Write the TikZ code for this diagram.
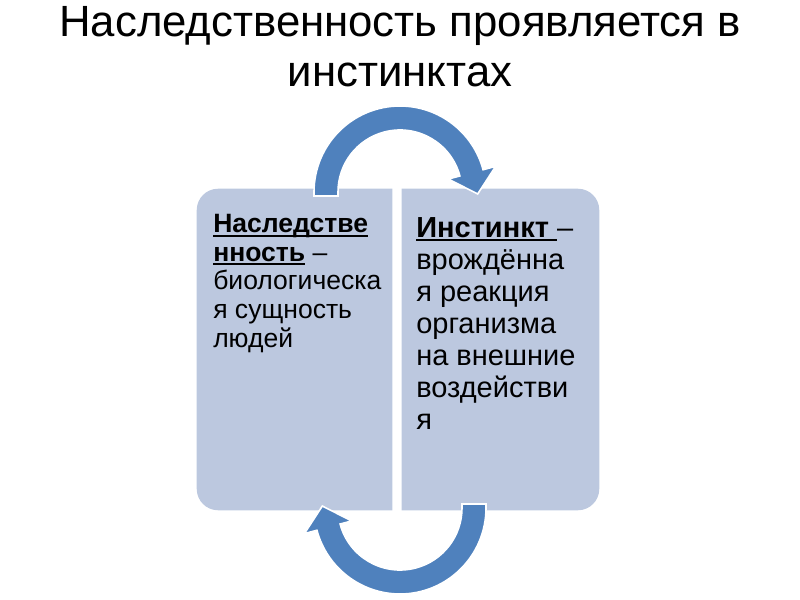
\documentclass[tikz,border=0pt]{standalone}
\usepackage{fontspec}
\setmainfont{Liberation Sans}
\usetikzlibrary{calc}
\definecolor{boxfill}{RGB}{188,200,223}
\definecolor{arrowblue}{RGB}{79,129,189}
\newsavebox\myulbox
\newcommand\myul[1]{\sbox\myulbox{#1}\rlap{\rule[-3pt]{\wd\myulbox}{1.4pt}}\usebox\myulbox}
\begin{document}
\begin{tikzpicture}[x=0.75pt,y=0.75pt,
  boxframe/.style={inner sep=0pt, minimum height=240.75pt},
  boxshape/.style={fill=boxfill, rounded corners=16pt},
  arrowshape/.style={fill=arrowblue, draw=white, line width=1.2pt, line join=miter},
  titletext/.style={font=\fontsize{32.8}{40}\selectfont, inner sep=0pt, anchor=base},
  lefttext/.style={font=\fontsize{19.9}{21.5}\selectfont, align=left, inner sep=0pt, anchor=north west},
  righttext/.style={font=\fontsize{21.75}{24}\selectfont, align=left, inner sep=0pt, anchor=north west}]
\useasboundingbox (0,0) rectangle (800,600);

% title
\node[titletext] (title1) at (400,563) {Наследственность проявляется в};
\node[titletext] (title2) at (400,513) {инстинктах};

% boxes
\node[boxframe, minimum width=146.25pt] (leftbox) at (294.5,250.5) {};
\node[boxframe, minimum width=147.75pt] (rightbox) at (500.5,250.5) {};
\begin{scope}
  \clip (leftbox.south west) rectangle (leftbox.north east);
  \fill[boxshape] (leftbox.south west) rectangle ($(leftbox.north east)+(40,0)$);
\end{scope}
\begin{scope}
  \clip (rightbox.south west) rectangle (rightbox.north east);
  \fill[boxshape] ($(rightbox.south west)+(-40,0)$) rectangle (rightbox.north east);
\end{scope}

% texts
\node[lefttext] (lefttxt) at (213,386) {\myul{\textbf{Наследстве}}\\\myul{\textbf{нность}} –\\биологическа\\я сущность\\людей};
\node[righttext] (righttxt) at (416,383) {\myul{\textbf{Инстинкт\ }}–\\врождённа\\я реакция\\организма\\на внешние\\воздействи\\я};

% top circular arrow
\coordinate (C1) at (400,408);
\coordinate (tip1) at ($(C1)+(15:55.9pt)+(-75:16.5pt)$);
\filldraw[arrowshape]
  ($(C1)+(-64.5pt,-3pt)$) -- ($(C1)+(180:64.5pt)$)
  arc[start angle=180, end angle=15, radius=64.5pt]
  -- ($(C1)+(15:74.25pt)$) -- (tip1) -- ($(C1)+(15:37.5pt)$)
  -- ($(C1)+(15:46.5pt)$)
  arc[start angle=15, end angle=180, radius=46.5pt]
  -- ($(C1)+(-46.5pt,-3pt)$) -- cycle;

% bottom circular arrow
\coordinate (C2) at (400,92);
\coordinate (tip2) at ($(C2)+(195:55.9pt)+(105:16.5pt)$);
\filldraw[arrowshape]
  ($(C2)+(64.5pt,3pt)$) -- ($(C2)+(0:64.5pt)$)
  arc[start angle=0, end angle=-165, radius=64.5pt]
  -- ($(C2)+(195:74.25pt)$) -- (tip2) -- ($(C2)+(195:37.5pt)$)
  -- ($(C2)+(195:46.5pt)$)
  arc[start angle=-165, end angle=0, radius=46.5pt]
  -- ($(C2)+(46.5pt,3pt)$) -- cycle;
\end{tikzpicture}
\end{document}
